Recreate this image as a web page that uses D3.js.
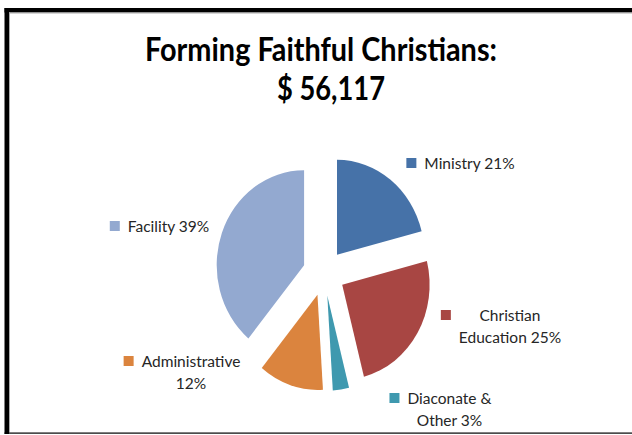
<!DOCTYPE html>
<html>
<head>
<meta charset="utf-8">
<script src="https://cdn.jsdelivr.net/npm/d3@7"></script>
<style>
  html, body { margin: 0; padding: 0; background: #fff; }
  svg { display: block; }
</style>
</head>
<body>
<div id="chart"></div>
<script>
const categories = ["Ministry", "Christian Education", "Diaconate & Other", "Administrative", "Facility"];
const shares = [21, 25, 3, 12, 39];
const labelWords = [["Ministry"], ["Christian", "Education"], ["Diaconate &", "Other"], ["Administrative", ""], ["Facility"]];
const sliceColors = ["#4672a8", "#a84643", "#3f99af", "#db843e", "#93a9d0"];
const titleLines = ["Forming Faithful Christians:", "$ 56,117"];

const width = 632, height = 435;
const center = {x: 324, y: 273};
const radius = 95;
const squash = 0.92;   // the original picture is a little narrower than tall
const explode = 23;
// where each label block sits: x = middle of text, y = first baseline
const labelPos = [
  {x: 469.5, y: 169},
  {x: 510, y: 321},
  {x: 449.5, y: 404},
  {x: 191, y: 367},
  {x: 168.5, y: 232}
];

const svg = d3.select("#chart")
  .append("svg")
  .attr("width", width)
  .attr("height", height);

// frame (cut at the right edge like the picture)
svg.append("rect").attr("x", 4.5).attr("y", 8).attr("width", 640).attr("height", 4.5).attr("fill", "#000");
svg.append("rect").attr("x", 4.5).attr("y", 8).attr("width", 4.5).attr("height", 426).attr("fill", "#000");
svg.append("rect").attr("x", 9).attr("y", 12.5).attr("width", 640).attr("height", 1).attr("fill", "#aaa");
svg.append("rect").attr("x", 9).attr("y", 12.5).attr("width", 1).attr("height", 420).attr("fill", "#aaa");
svg.append("rect").attr("x", 4.5).attr("y", 432.5).attr("width", 640).attr("height", 1.2).attr("fill", "#000");

// title
const titleX = [321, 331], titleY = [61, 100], titleW = [352, 108];
svg.selectAll("text.title")
  .data(titleLines)
  .join("text")
  .attr("class", "title")
  .attr("x", (d, i) => titleX[i])
  .attr("y", (d, i) => titleY[i])
  .attr("text-anchor", "middle")
  .attr("font-family", "Lato, 'Open Sans', sans-serif")
  .attr("font-weight", "bold")
  .attr("font-size", "33px")
  .attr("textLength", (d, i) => titleW[i])
  .attr("lengthAdjust", "spacingAndGlyphs")
  .attr("fill", "#000")
  .text(d => d);

const data = categories.map((c, i) => ({name: c, value: shares[i], color: sliceColors[i], words: labelWords[i]}));

const pie = d3.pie()
  .sort(null)
  .value(d => d.value)
  .startAngle(0)
  .endAngle(2 * Math.PI);

const arc = d3.arc()
  .innerRadius(0)
  .outerRadius(radius);

const arcs = pie(data);

svg.append("g")
  .attr("transform", `translate(${center.x},${center.y}) scale(${squash},1)`)
  .selectAll("path")
  .data(arcs)
  .join("path")
  .attr("transform", d => {
    const mid = (d.startAngle + d.endAngle) / 2;
    return `translate(${Math.sin(mid) * explode},${-Math.cos(mid) * explode})`;
  })
  .attr("d", arc)
  .attr("fill", d => d.data.color);

// labels with a small colour key
const lineH = 22;
const labels = svg.append("g")
  .attr("font-family", "Lato, 'Open Sans', sans-serif")
  .attr("font-size", "15.5px")
  .attr("fill", "#262626");

arcs.forEach((d, i) => {
  const pos = labelPos[i];
  const words = d.data.words;
  const lines = words.map((w, j) => j === words.length - 1 ? (w ? w + " " : "") + d.data.value + "%" : w);
  const g = labels.append("g");
  const texts = g.selectAll("text")
    .data(lines)
    .join("text")
    .attr("x", pos.x)
    .attr("y", (t, j) => pos.y + j * lineH)
    .attr("text-anchor", "middle")
    .text(t => t);
  const maxW = d3.max(texts.nodes(), n => n.getComputedTextLength());
  g.append("rect")
    .attr("x", pos.x - maxW / 2 - 18)
    .attr("y", pos.y - 11)
    .attr("width", 10)
    .attr("height", 10)
    .attr("fill", d.data.color);
});
</script>
</body>
</html>
